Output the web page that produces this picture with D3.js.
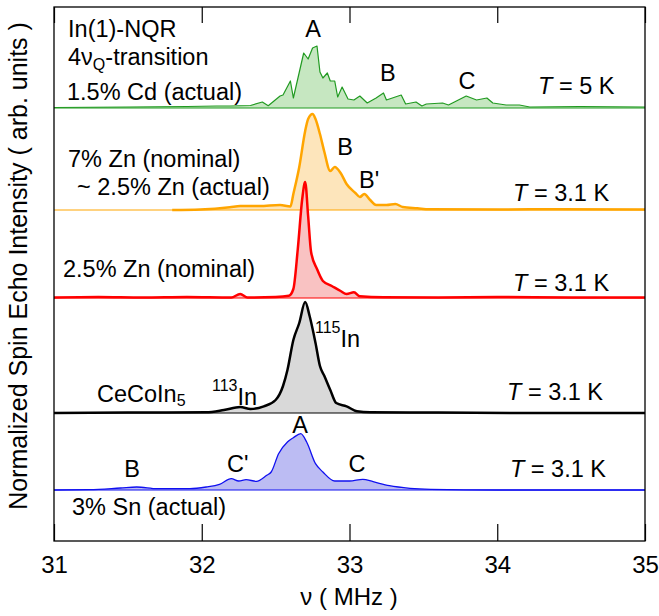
<!DOCTYPE html>
<html>
<head>
<meta charset="utf-8">
<script src="https://cdn.jsdelivr.net/npm/d3@7"></script>
<style>
body { margin: 0; background: #fff; }
svg { font-family: "Liberation Sans", Arial, Helvetica, sans-serif; }
</style>
</head>
<body>
<div class="canvas"></div>
<script>
// In(1)-NQR spectra, frequency in MHz, intensity in arb. units
const samples = ['1.5% Cd', '7% Zn', '2.5% Zn', 'CeCoIn5', '3% Sn'];
const offsets = [4.33, 3.31, 2.43, 1.28, 0.51];
const xTicks = [31, 32, 33, 34, 35];

const cdFreq = [31.00, 31.50, 31.90, 32.10, 32.19, 32.33, 32.41, 32.45, 32.53, 32.55, 32.60, 32.62, 32.69, 32.72, 32.75, 32.78, 32.80, 32.82, 32.85, 32.87, 32.90, 32.92, 32.95, 32.99, 33.03, 33.07, 33.12, 33.18, 33.23, 33.25, 33.35, 33.38, 33.45, 33.49, 33.52, 33.63, 33.67, 33.79, 33.86, 33.93, 33.97, 34.06, 34.15, 34.22, 34.56, 35.00];
const cdInt = [0.005, 0.01, 0.015, 0.02, 0.02, 0.025, 0.06, 0.023, 0.12, 0.13, 0.27, 0.10, 0.55, 0.49, 0.60, 0.62, 0.36, 0.30, 0.35, 0.27, 0.27, 0.11, 0.21, 0.09, 0.08, 0.12, 0.05, 0.10, 0.15, 0.08, 0.13, 0.04, 0.06, 0.02, 0.04, 0.05, 0.03, 0.12, 0.08, 0.10, 0.05, 0.03, 0.03, 0.01, 0.015, 0.01];

const zn7Freq = [31.80, 31.99, 32.19, 32.26, 32.39, 32.53, 32.60, 32.62, 32.66, 32.70, 32.72, 32.75, 32.77, 32.80, 32.83, 32.87, 32.90, 32.94, 32.98, 33.04, 33.07, 33.10, 33.14, 33.18, 33.25, 33.31, 33.36, 33.46, 33.54, 34.02, 34.42, 35.00];
const zn7Int = [0.0, 0.005, 0.027, 0.04, 0.04, 0.05, 0.035, 0.16, 0.43, 0.79, 0.91, 0.96, 0.91, 0.76, 0.58, 0.39, 0.43, 0.37, 0.26, 0.17, 0.13, 0.16, 0.10, 0.05, 0.05, 0.06, 0.03, 0.017, 0.007, 0.005, 0.008, 0.005];

const zn25Freq = [31.00, 31.30, 31.60, 31.90, 32.20, 32.26, 32.31, 32.50, 32.59, 32.62, 32.65, 32.68, 32.70, 32.72, 32.74, 32.78, 32.82, 32.88, 32.94, 32.98, 33.03, 33.07, 33.23, 33.60, 34.00, 34.50, 35.00];
const zn25Int = [0.005, 0.01, 0.005, 0.01, 0.005, 0.04, 0.005, 0.01, 0.023, 0.09, 0.49, 0.99, 1.16, 0.82, 0.46, 0.29, 0.17, 0.12, 0.07, 0.04, 0.057, 0.017, 0.007, 0.005, 0.01, 0.005, 0.005];

const pureFreq = [31.00, 31.50, 32.03, 32.15, 32.26, 32.33, 32.42, 32.50, 32.55, 32.58, 32.62, 32.66, 32.70, 32.73, 32.77, 32.80, 32.83, 32.87, 32.91, 32.98, 33.05, 33.14, 33.60, 34.20, 35.00];
const pureInt = [0.0, 0.005, 0.007, 0.03, 0.06, 0.04, 0.067, 0.13, 0.27, 0.43, 0.73, 0.90, 1.11, 0.97, 0.70, 0.47, 0.37, 0.23, 0.10, 0.067, 0.017, 0.007, 0.005, 0.0, 0.0];

const snFreq = [31.00, 31.24, 31.45, 31.56, 31.70, 31.92, 32.03, 32.12, 32.20, 32.25, 32.30, 32.37, 32.44, 32.47, 32.52, 32.58, 32.62, 32.67, 32.71, 32.77, 32.82, 32.90, 33.00, 33.09, 33.16, 33.27, 33.41, 33.55, 34.00, 35.00];
const snInt = [0.0, 0.003, 0.02, 0.03, 0.013, 0.013, 0.03, 0.057, 0.113, 0.09, 0.103, 0.087, 0.147, 0.18, 0.363, 0.48, 0.523, 0.563, 0.48, 0.263, 0.18, 0.09, 0.09, 0.107, 0.083, 0.043, 0.017, 0.007, 0.0, 0.0];

const freqs = [cdFreq, zn7Freq, zn25Freq, pureFreq, snFreq];
const ints = [cdInt, zn7Int, zn25Int, pureInt, snInt];

const lineColors = ['#219a21', '#ffa500', '#ff0000', '#000000', '#1010f0'];
const fillColors = ['#c6e7c1', '#fde5bb', '#f9c2c2', '#d9d9d9', '#bcbcf3'];
const lineWidths = [1.2, 2.5, 2.5, 2.5, 1.3];

const width = 659, height = 616;
const margin = {top: 7, right: 14, bottom: 75, left: 54};
const graphWidth = width - margin.left - margin.right;
const graphHeight = height - margin.top - margin.bottom;

const svg = d3.select('.canvas')
    .append('svg')
    .attr('width', width)
    .attr('height', height);

const graph = svg.append('g')
    .attr('transform', `translate(${margin.left}, ${margin.top})`);

const x = d3.scaleLinear().domain([31, 35]).range([0, graphWidth]);
const y = d3.scaleLinear().domain([0, 5.34]).range([graphHeight, 0]);

// spectra, top to bottom
samples.forEach((s, i) => {
    const off = offsets[i];
    const pts = freqs[i].map((f, j) => ({f: f, v: ints[i][j]}));
    const curve = i === 0 ? d3.curveLinear : d3.curveMonotoneX;

    const area = d3.area()
        .x(d => x(d.f))
        .y0(y(off))
        .y1(d => y(off + d.v))
        .curve(curve);

    const line = d3.line()
        .x(d => x(d.f))
        .y(d => y(off + d.v))
        .curve(curve);

    graph.append('path')
        .datum(pts)
        .attr('d', area)
        .attr('fill', fillColors[i]);

    // thin baseline across the whole range
    graph.append('line')
        .attr('x1', x(31)).attr('x2', x(35))
        .attr('y1', y(off)).attr('y2', y(off))
        .attr('stroke', lineColors[i])
        .attr('stroke-width', 1);

    graph.append('path')
        .datum(pts)
        .attr('d', line)
        .attr('fill', 'none')
        .attr('stroke', lineColors[i])
        .attr('stroke-width', lineWidths[i])
        .attr('stroke-linejoin', 'round');
});

// axes: inward ticks at top and bottom
const xAxis = d3.axisBottom(x)
    .tickValues(xTicks)
    .tickSizeInner(-17)
    .tickSizeOuter(0)
    .tickPadding(15)
    .tickFormat(d3.format('d'));

const xAxisTop = d3.axisTop(x)
    .tickValues(xTicks)
    .tickSizeInner(-16)
    .tickSizeOuter(0)
    .tickFormat('');

const xAxisGroup = graph.append('g')
    .attr('transform', `translate(0, ${graphHeight})`)
    .call(xAxis);
const xTopGroup = graph.append('g').call(xAxisTop);

[xAxisGroup, xTopGroup].forEach(g => {
    g.select('.domain').remove();
    g.selectAll('line').attr('stroke', '#000').attr('stroke-width', 1.2);
});
xAxisGroup.selectAll('text')
    .attr('font-size', 24)
    .attr('fill', '#000')
    .style('font-family', '"Liberation Sans", Arial, sans-serif');

graph.append('rect')
    .attr('width', graphWidth)
    .attr('height', graphHeight)
    .attr('fill', 'none')
    .attr('stroke', '#000')
    .attr('stroke-width', 1.3);

// annotations (f in MHz, v in arb. units)
const notes = [
    {f: 31.095, v: 5.04, t: 'In(1)-NQR'},
    {f: 31.095, v: 4.76, t: '4ν<tspan font-size="16" dy="5">Q</tspan><tspan dy="-5">-transition</tspan>'},
    {f: 31.088, v: 4.41, t: '1.5% Cd (actual)'},
    {f: 32.753, v: 5.04, t: 'A', a: 'middle'},
    {f: 33.26, v: 4.60, t: 'B', a: 'middle'},
    {f: 33.795, v: 4.52, t: 'C', a: 'middle'},
    {f: 34.276, v: 4.47, t: '<tspan font-style="italic">T</tspan> = 5 K'},
    {f: 31.095, v: 3.74, t: '7% Zn (nominal)'},
    {f: 31.156, v: 3.46, t: '~ 2.5% Zn (actual)'},
    {f: 32.97, v: 3.86, t: 'B', a: 'middle'},
    {f: 33.064, v: 3.53, t: "B'"},
    {f: 34.107, v: 3.40, t: '<tspan font-style="italic">T</tspan> = 3.1 K'},
    {f: 31.061, v: 2.64, t: '2.5% Zn (nominal)'},
    {f: 34.107, v: 2.50, t: '<tspan font-style="italic">T</tspan> = 3.1 K'},
    {f: 31.291, v: 1.39, t: 'CeCoIn<tspan font-size="16" dy="4">5</tspan>'},
    {f: 32.069, v: 1.36, t: '<tspan font-size="16" dy="-14">113</tspan><tspan dy="14">In</tspan>'},
    {f: 32.766, v: 1.94, t: '<tspan font-size="16" dy="-14">115</tspan><tspan dy="14">In</tspan>'},
    {f: 34.066, v: 1.41, t: '<tspan font-style="italic">T</tspan> = 3.1 K'},
    {f: 32.665, v: 1.08, t: 'A', a: 'middle'},
    {f: 31.528, v: 0.64, t: 'B', a: 'middle'},
    {f: 32.171, v: 0.69, t: "C'"},
    {f: 33.051, v: 0.69, t: 'C', a: 'middle'},
    {f: 34.086, v: 0.64, t: '<tspan font-style="italic">T</tspan> = 3.1 K'},
    {f: 31.122, v: 0.26, t: '3% Sn (actual)'}
];

graph.selectAll('text.note')
    .data(notes)
    .enter()
    .append('text')
        .attr('class', 'note')
        .attr('x', d => x(d.f))
        .attr('y', d => y(d.v))
        .attr('text-anchor', d => d.a || 'start')
        .attr('font-size', 23.5)
        .attr('fill', '#000')
        .html(d => d.t);

// axis titles
svg.append('text')
    .attr('x', margin.left + x(33) - 0.5)
    .attr('y', 605)
    .attr('text-anchor', 'middle')
    .attr('font-size', 24)
    .text('ν ( MHz )');

svg.append('text')
    .attr('transform', 'translate(27, 266) rotate(-90)')
    .attr('text-anchor', 'middle')
    .attr('font-size', 25)
    .text('Normalized Spin Echo Intensity ( arb. units )');
</script>
</body>
</html>
